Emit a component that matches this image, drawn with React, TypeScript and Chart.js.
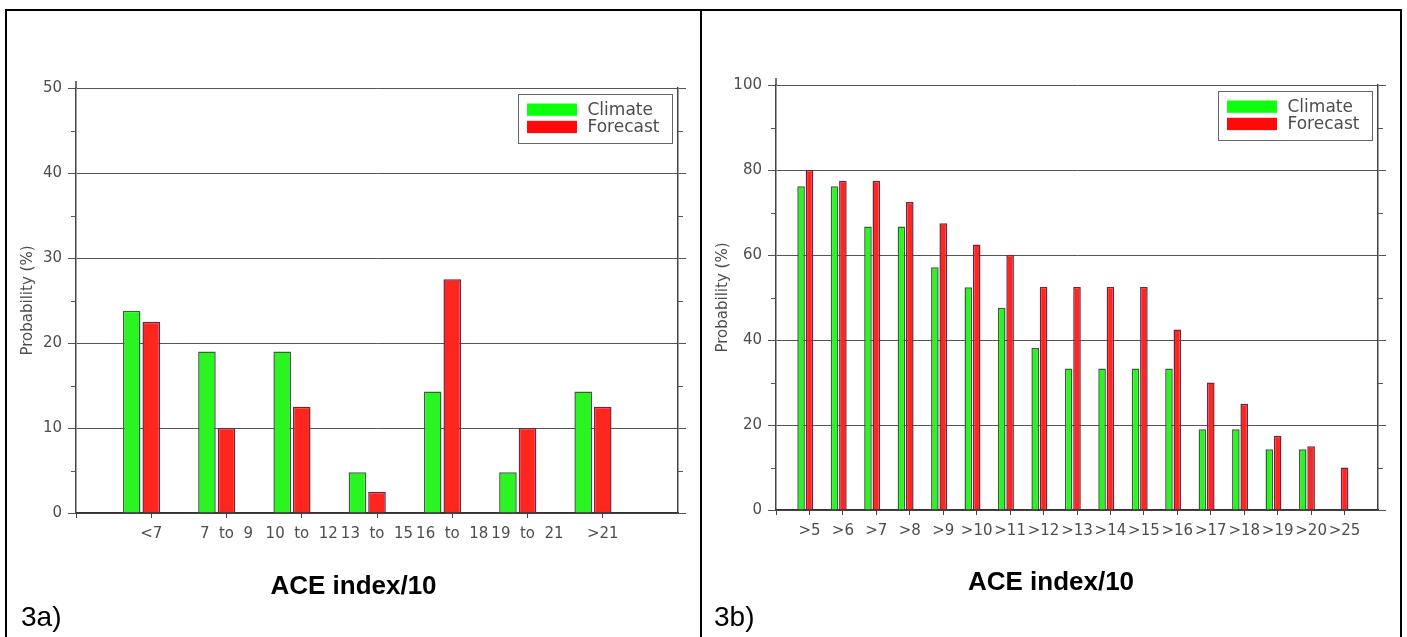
import React, { useEffect, useRef } from 'react';
import { Chart, registerables } from 'chart.js';

Chart.register(...registerables);

// ---------- data ----------
const seriesLabels = ['Climate', 'Forecast'];
const xTitle = 'ACE index/10';
const yTitle = 'Probability (%)';

const leftCategories = ['<7', '7  to  9', '10  to  12', '13  to  15', '16  to  18', '19  to  21', '>21'];
const leftClimate = [23.8, 19.0, 19.0, 4.8, 14.3, 4.8, 14.3];
const leftForecast = [22.5, 10.0, 12.5, 2.5, 27.5, 10.0, 12.5];
const leftYTicks = [0, 10, 20, 30, 40, 50];

const rightCategories = ['>5', '>6', '>7', '>8', '>9', '>10', '>11', '>12', '>13', '>14', '>15', '>16', '>17', '>18', '>19', '>20', '>25'];
const rightClimate = [76.2, 76.2, 66.7, 66.7, 57.1, 52.4, 47.6, 38.1, 33.3, 33.3, 33.3, 33.3, 19.0, 19.0, 14.3, 14.3, 0];
const rightForecast = [80, 77.5, 77.5, 72.5, 67.5, 62.5, 60, 52.5, 52.5, 52.5, 52.5, 42.5, 30, 25, 17.5, 15, 10];
const rightYTicks = [0, 20, 40, 60, 80, 100];

// ---------- styles ----------
const TEXT = '#4d4d4d';
const AXIS = '#444444';
const GRID = '#555555';
const TICK_FONT = { family: 'DejaVu Sans', size: 15 };

const boxLegendPlugin = {
  id: 'boxLegend',
  afterDraw(chart: any, _args: any, o: any) {
    const { ctx, chartArea } = chart;
    const x = chartArea.right - o.marginRight - o.width;
    const y = chartArea.top + o.marginTop;
    ctx.save();
    ctx.fillStyle = '#ffffff';
    ctx.fillRect(x, y, o.width, o.height);
    ctx.strokeStyle = '#666666';
    ctx.lineWidth = 1;
    ctx.strokeRect(Math.round(x) + 0.5, Math.round(y) + 0.5, o.width, o.height);
    ctx.font = `${o.fontSize}px "DejaVu Sans"`;
    ctx.textBaseline = 'middle';
    ctx.textAlign = 'left';
    chart.data.datasets.forEach((ds: any, i: number) => {
      const sy = y + o.swatchTop + i * o.rowGap;
      ctx.fillStyle = ds.legendColor || ds.backgroundColor;
      ctx.fillRect(x + o.swatchLeft, sy, o.swatchW, o.swatchH);
      ctx.fillStyle = TEXT;
      ctx.fillText(ds.label, x + o.textLeft, sy + o.swatchH / 2 + 0.5);
    });
    ctx.restore();
  },
};

const axisExtrasPlugin = {
  id: 'axisExtras',
  afterDraw(chart: any, _args: any, o: any) {
    const { ctx, chartArea } = chart;
    const ys = chart.scales.y;
    ctx.save();
    ctx.strokeStyle = AXIS;
    ctx.lineWidth = 1.5;
    ctx.beginPath();
    ctx.moveTo(chartArea.left, chartArea.top - o.overshoot);
    ctx.lineTo(chartArea.left, chartArea.top);
    ctx.stroke();
    ctx.strokeStyle = GRID;
    ctx.lineWidth = 1;
    const ticks = ys.ticks;
    for (let i = 0; i < ticks.length - 1; i++) {
      const mid = (ticks[i].value + ticks[i + 1].value) / 2;
      const py = Math.round(ys.getPixelForValue(mid)) + 0.5;
      ctx.beginPath();
      ctx.moveTo(chartArea.left - o.minorLength, py);
      ctx.lineTo(chartArea.left, py);
      ctx.moveTo(chartArea.right, py);
      ctx.lineTo(chartArea.right + o.minorLength, py);
      ctx.stroke();
    }
    ctx.restore();
  },
};

type PanelCfg = {
  left: number; top: number; w: number; h: number;
  areaLeft: number; areaRight: number; areaTop: number; areaBottom: number;
  shift: number; barPct: number; titleCenter: number;
  categories: string[]; climate: number[]; forecast: number[]; yTicks: number[];
};

function Panel({ cfg }: { cfg: PanelCfg }) {
  const ref = useRef<HTMLCanvasElement>(null);
  useEffect(() => {
    const xAxisH = 40;
    const titleLH = 26 * 1.2;
    const titlePadTop = cfg.titleCenter - cfg.areaBottom - xAxisH - titleLH / 2;
    const padBottom = cfg.h - cfg.areaBottom - xAxisH - titleLH - titlePadTop;
    const xMax = cfg.categories.length + 1;
    const yMax = cfg.yTicks[cfg.yTicks.length - 1];
    const yStep = cfg.yTicks[1] - cfg.yTicks[0];
    const chart = new Chart(ref.current as HTMLCanvasElement, {
      type: 'bar',
      data: {
        datasets: [
          {
            label: seriesLabels[0],
            data: cfg.climate.map((v, i) => ({ x: i + 1 - cfg.shift, y: v })),
            backgroundColor: 'rgb(42,244,34)',
            borderColor: 'rgb(55,100,55)',
            borderWidth: 1.5,
            grouped: false,
            categoryPercentage: 1,
            barPercentage: cfg.barPct,
            legendColor: '#0dff0d',
          } as any,
          {
            label: seriesLabels[1],
            data: cfg.forecast.map((v, i) => ({ x: i + 1, y: v })),
            backgroundColor: 'rgb(255,38,30)',
            borderColor: 'rgb(115,35,65)',
            borderWidth: 1.5,
            grouped: false,
            categoryPercentage: 1,
            barPercentage: cfg.barPct,
            legendColor: '#ff0a0a',
          } as any,
        ],
      },
      options: {
        responsive: false,
        animation: false,
        events: [],
        layout: { padding: { left: 0, right: 0, top: cfg.areaTop, bottom: padBottom } },
        scales: {
          x: {
            type: 'linear',
            min: 0,
            max: xMax,
            offset: false,
            grid: {
              offset: false,
              drawOnChartArea: false,
              drawTicks: true,
              tickLength: 5,
              tickColor: (c: any) => (c.tick && c.tick.value === xMax ? 'rgba(0,0,0,0)' : AXIS),
            },
            border: { display: true, color: '#333333', width: 1.5 },
            ticks: {
              stepSize: 1,
              autoSkip: false,
              maxRotation: 0,
              minRotation: 0,
              padding: 7,
              color: TEXT,
              font: TICK_FONT,
              callback: (v: any) => cfg.categories[Math.round(Number(v)) - 1] ?? '',
            },
            afterFit: (s: any) => { s.height = xAxisH; },
          } as any,
          y: {
            position: 'left',
            min: 0,
            max: yMax,
            ticks: { stepSize: yStep, padding: 6, color: TEXT, font: TICK_FONT },
            grid: { color: GRID, lineWidth: 1, tickLength: 8, tickColor: GRID },
            border: { display: true, color: AXIS, width: 1.5 },
            title: {
              display: true,
              text: yTitle,
              color: TEXT,
              font: { family: 'DejaVu Sans', size: 15 },
              padding: { top: 12, bottom: 0 },
            },
            afterFit: (s: any) => { s.width = cfg.areaLeft; },
          } as any,
          y2: {
            position: 'right',
            min: 0,
            max: yMax,
            ticks: { display: false, stepSize: yStep },
            grid: { drawOnChartArea: false, tickLength: 8, tickColor: GRID },
            border: { display: true, color: AXIS, width: 1.5 },
            afterFit: (s: any) => { s.width = cfg.w - cfg.areaRight; },
          } as any,
        },
        plugins: {
          legend: { display: false },
          tooltip: { enabled: false },
          title: {
            display: true,
            position: 'bottom',
            text: xTitle,
            color: '#000000',
            font: { family: 'Liberation Sans', size: 26, weight: 'bold' },
            padding: { top: titlePadTop, bottom: 0 },
          },
          boxLegend: {
            width: 154, height: 49, marginRight: 6.5, marginTop: 5.5,
            swatchLeft: 9.5, swatchTop: 10, swatchW: 50, swatchH: 12.3, rowGap: 17.3,
            textLeft: 70, fontSize: 17,
          },
          axisExtras: { overshoot: 7, minorLength: 5 },
        } as any,
      },
      plugins: [boxLegendPlugin, axisExtrasPlugin],
    });
    return () => chart.destroy();
  }, []);
  return (
    <canvas
      ref={ref}
      width={cfg.w}
      height={cfg.h}
      style={{ position: 'absolute', left: cfg.left, top: cfg.top, width: cfg.w, height: cfg.h }}
    />
  );
}

const leftCfg: PanelCfg = {
  left: 7, top: 11, w: 693, h: 626,
  areaLeft: 69, areaRight: 671, areaTop: 77, areaBottom: 502,
  shift: 0.26, barPct: 0.9, titleCenter: 576,
  categories: leftCategories, climate: leftClimate, forecast: leftForecast, yTicks: leftYTicks,
};

const rightCfg: PanelCfg = {
  left: 702, top: 11, w: 698, h: 626,
  areaLeft: 74, areaRight: 676, areaTop: 74, areaBottom: 499,
  shift: 0.25, barPct: 0.91, titleCenter: 571.8,
  categories: rightCategories, climate: rightClimate, forecast: rightForecast, yTicks: rightYTicks,
};

const line = (left: number, top: number, width: number, height: number): React.CSSProperties => ({
  position: 'absolute', left, top, width, height, background: '#000',
});

const panelLabel: React.CSSProperties = {
  position: 'absolute', top: 603, fontFamily: '"Liberation Sans", Arial, sans-serif',
  fontSize: 28, lineHeight: '28px', color: '#000', whiteSpace: 'nowrap',
};

export default function App() {
  return (
    <div style={{ position: 'absolute', left: 0, top: 0, width: 1407, height: 637, overflow: 'hidden', background: '#fff' }}>
      <Panel cfg={leftCfg} />
      <Panel cfg={rightCfg} />
      <div style={line(5, 9, 1397, 2)} />
      <div style={line(5, 9, 2, 628)} />
      <div style={line(700, 9, 2, 628)} />
      <div style={line(1400, 9, 2, 628)} />
      <div style={{ ...panelLabel, left: 21 }}>3a)</div>
      <div style={{ ...panelLabel, left: 714 }}>3b)</div>
    </div>
  );
}
